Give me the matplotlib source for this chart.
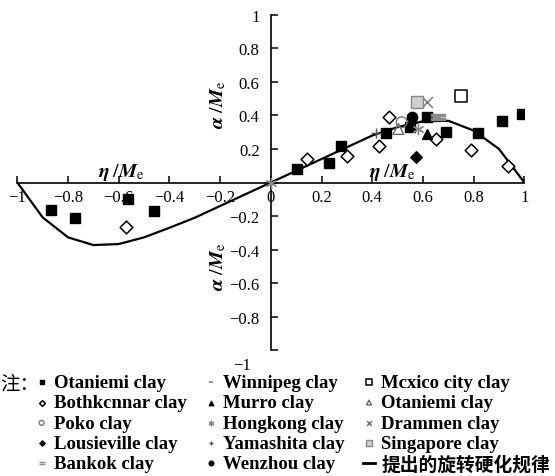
import matplotlib.pyplot as plt
from matplotlib import font_manager
from matplotlib.lines import Line2D

installed = {f.name for f in font_manager.fontManager.ttflist}
serif = next((f for f in ['Liberation Serif', 'Times New Roman', 'DejaVu Serif'] if f in installed), 'serif')
plt.rcParams['font.family'] = [serif, 'Noto Sans CJK SC']
plt.rcParams['mathtext.fontset'] = 'stix'

# proposed rotational hardening law (curve)
curve_x = [-1, -0.9, -0.8, -0.7, -0.6, -0.5, -0.4, -0.3, -0.2, -0.1, 0,
           0.1, 0.2, 0.3, 0.4, 0.5, 0.6, 0.7, 0.8, 0.9, 1]
curve_y = [0, -0.208, -0.327, -0.373, -0.367, -0.327, -0.27, -0.21, -0.14, -0.07, 0,
           0.07, 0.14, 0.21, 0.28, 0.33, 0.365, 0.368, 0.31, 0.2, 0]

# test data, eta/Me and alpha/Me
otaniemi_x = [0.105, 0.231, 0.276, 0.454, 0.549, 0.615, 0.691, 0.818, 0.913, 0.989,
              -0.867, -0.773, -0.564, -0.462]
otaniemi_y = [0.080, 0.119, 0.215, 0.293, 0.329, 0.389, 0.303, 0.294, 0.364, 0.408,
              -0.162, -0.212, -0.099, -0.168]
bothk_x = [0.144, 0.301, 0.428, 0.467, 0.652, 0.790, 0.937, -0.573]
bothk_y = [0.139, 0.161, 0.216, 0.389, 0.259, 0.195, 0.099, -0.263]
winnipeg_x = [0.655]
winnipeg_y = [0.383]
mexico_x = [0.749]
mexico_y = [0.514]
murro_x = [0.617]
murro_y = [0.289]
otaniemi2_x = [0.503]
otaniemi2_y = [0.319]
poko_x = [0.516]
poko_y = [0.359]
hongkong_x = [0.0, 0.582]
hongkong_y = [0.0, 0.319]
drammen_x = [0.615]
drammen_y = [0.482]
lousie_x = [0.573]
lousie_y = [0.151]
yamashita_x = [0.415]
yamashita_y = [0.293]
singapore_x = [0.576]
singapore_y = [0.482]
bankok_x = [0.661]
bankok_y = [0.389]
wenzhou_x = [0.556]
wenzhou_y = [0.389]

ticks = [-1, -0.8, -0.6, -0.4, -0.2, 0, 0.2, 0.4, 0.6, 0.8, 1]

fig = plt.figure(figsize=(5.55, 4.77), dpi=100)
ax = fig.add_axes([0.0312, 0.2637, 0.9135, 0.7032])
ax.set_xlim(-1, 1)
ax.set_ylim(-1, 1)

ax.spines['left'].set_position('zero')
ax.spines['bottom'].set_position('zero')
ax.spines['top'].set_visible(False)
ax.spines['right'].set_visible(False)
for s in ['left', 'bottom']:
    ax.spines[s].set_linewidth(1.2)

ax.set_xticks(ticks)
ax.set_xticklabels([('%g' % t).replace('-', '\u2212') for t in ticks])
ax.set_yticks(ticks)
ax.set_yticklabels([('' if t in (0, -1) else ('%g' % t).replace('-', '\u2212')) for t in ticks])
ax.tick_params(axis='both', direction='in', length=5, width=1.1, labelsize=12)
ax.tick_params(axis='x', pad=5)
ax.tick_params(axis='y', pad=8)
ax.text(-0.078, -1.088, '\u22121', ha='right', va='center', fontsize=12)

ax.plot(curve_x, curve_y, color='black', lw=1.6, zorder=4)

z = 5
h_ot = ax.scatter(otaniemi_x, otaniemi_y, marker='s', s=60, c='black', zorder=z)
h_wi = ax.scatter(winnipeg_x, winnipeg_y, marker='_', s=40, c='#999999', lw=1.5, zorder=z)
h_mx = ax.scatter(mexico_x, mexico_y, marker='s', s=75, facecolors='white', edgecolors='black', lw=1.1, zorder=z)
h_bo = ax.scatter(bothk_x, bothk_y, marker='D', s=42, facecolors='white', edgecolors='black', lw=1.1, zorder=z)
h_mu = ax.scatter(murro_x, murro_y, marker='^', s=50, c='black', zorder=z)
h_o2 = ax.scatter(otaniemi2_x, otaniemi2_y, marker='^', s=60, facecolors='none', edgecolors='#666666', lw=1, zorder=z)
h_po = ax.scatter(poko_x, poko_y, marker='o', s=60, facecolors='none', edgecolors='#777777', lw=1, zorder=z)
h_hk = ax.scatter(hongkong_x, hongkong_y, marker=(6, 2, 0), s=55, c='#888888', lw=1, zorder=z)
h_dr = ax.scatter(drammen_x, drammen_y, marker='x', s=60, c='#777777', lw=1.1, zorder=z)
h_lo = ax.scatter(lousie_x, lousie_y, marker='D', s=35, c='black', zorder=z)
h_ya = ax.scatter(yamashita_x, yamashita_y, marker='+', s=60, c='#555555', lw=1, zorder=z)
h_si = ax.scatter(singapore_x, singapore_y, marker='s', s=75, facecolors='#d0d0d0', edgecolors='#888888', lw=1, zorder=z)
h_ba = ax.scatter(bankok_x, bankok_y, marker='$=$', s=90, c='#888888', zorder=z)
h_we = ax.scatter(wenzhou_x, wenzhou_y, marker='o', s=55, c='black', zorder=z)
h_cu = Line2D([], [], color='black', lw=2)

lab = r'$\mathbfit{\eta}\ /\mathbfit{M}_{\mathrm{e}}$'
ax.text(-0.59, 0.065, lab, ha='center', va='center', fontsize=14.5)
ax.text(0.48, 0.065, lab, ha='center', va='center', fontsize=14.5)
alab = r'$\mathbfit{\alpha}\ /\mathbfit{M}_{\mathrm{e}}$'
ax.text(-0.205, 0.47, alab, ha='center', va='center', rotation=90, fontsize=14.5)
ax.text(-0.205, -0.50, alab, ha='center', va='center', rotation=90, fontsize=14.5)

handles = [h_ot, h_bo, h_po, h_lo, h_ba,
           h_wi, h_mu, h_hk, h_ya, h_we,
           h_mx, h_o2, h_dr, h_si, h_cu]
labels = ['Otaniemi clay', 'Bothkcnnar clay', 'Poko clay', 'Lousieville clay', 'Bankok clay',
          'Winnipeg clay', 'Murro clay', 'Hongkong clay', 'Yamashita clay', 'Wenzhou clay',
          'Mcxico city clay', 'Otaniemi clay', 'Drammen clay', 'Singapore clay', '提出的旋转硬化规律']
fig.text(0.0, (477 - 384) / 477, '注：', ha='left', va='center', fontsize=14,
         family=['Noto Sans CJK SC'])
leg = fig.legend(handles, labels, ncol=3, loc='upper left',
                 bbox_to_anchor=(36 / 555, (477 - 375) / 477), frameon=False,
                 prop={'family': [serif, 'Noto Sans CJK SC'], 'weight': 'bold', 'size': 13.5},
                 markerscale=0.45, handlelength=0.6, handletextpad=0.35,
                 columnspacing=1.0, labelspacing=0.17, borderpad=0, borderaxespad=0)

fig.savefig('out.png', dpi=100)
